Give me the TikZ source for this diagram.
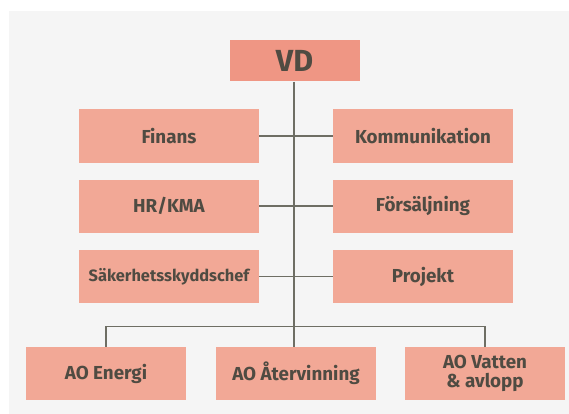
\documentclass[tikz,border=0pt]{standalone}
\usepackage{fontspec}
\setmainfont{Fira Sans}
\definecolor{bgc}{HTML}{F5F5F5}
\definecolor{vdc}{HTML}{EF9684}
\definecolor{boxc}{HTML}{F2A896}
\definecolor{txtc}{HTML}{4F4B42}
\definecolor{linec}{HTML}{6E6E64}
\begin{document}
\begin{tikzpicture}[x=1pt,y=-1pt,
  box/.style={fill=boxc, minimum width=180pt, minimum height=53pt, inner sep=0pt,
    text=txtc, align=center, font=\bfseries\fontsize{18.8}{19}\selectfont},
  aobox/.style={box, minimum width=160pt},
  topbox/.style={box, fill=vdc, minimum width=130pt, minimum height=41pt,
    font=\bfseries\fontsize{30.5}{32}\selectfont},
  conn/.style={draw=linec, line width=1.2pt}]
\useasboundingbox (0,0) rectangle (569,414);
\fill[bgc] (9,11) rectangle (569,414);
\node[topbox] (vd) at (294.5,61) {VD};
\node[box] (fin) at (169,136) {Finans};
\node[box] (kom) at (423,136) {Kommunikation};
\node[box] (hr) at (169,206) {HR/KMA};
\node[box] (fors) at (423,206) {Försäljning};
\node[box] (sak) at (169,276.5) {\fontsize{16.4}{18}\selectfont Säkerhetsskyddschef};
\node[box] (proj) at (423,276.5) {Projekt};
\node[aobox] (aoe) at (106,373.5) {AO Energi};
\node[aobox] (aoa) at (296,373.5) {AO Återvinning};
\node[aobox] (aov) at (485,373.5) {AO Vatten\\\& avlopp};
\coordinate (mid) at (294,0);
\draw[conn] (vd.south -| mid) -- (mid |- aoa.north);
\draw[conn] (fin.east) -- (kom.west);
\draw[conn] (hr.east) -- (fors.west);
\draw[conn] (sak.east) -- (proj.west);
\draw[conn] (aoe.north) -- ++(0,-20) -| (aov.north);
\end{tikzpicture}
\end{document}
